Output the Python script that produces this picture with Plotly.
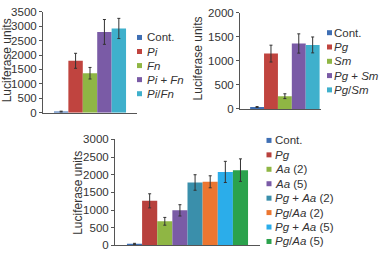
import plotly.graph_objects as go

# ---- data ----
names1 = ["Cont.", "<i>Pi</i>", "<i>Fn</i>", "<i>Pi</i> + <i>Fn</i>", "<i>Pi</i>/<i>Fn</i>"]
vals1 = [40, 1800, 1370, 2800, 2920]
err1 = [15, 260, 200, 430, 350]
colors1 = ["#3f6fb4", "#c0443f", "#8fb644", "#7a5ba6", "#3fb0cc"]

names2 = ["Cont.", "<i>Pg</i>", "<i>Sm</i>", "<i>Pg</i> + <i>Sm</i>", "<i>Pg</i>/<i>Sm</i>"]
vals2 = [40, 1150, 265, 1360, 1330]
err2 = [10, 175, 50, 200, 165]
colors2 = ["#3f6fb4", "#c0443f", "#8fb644", "#7a5ba6", "#3fb0cc"]

names3 = ["Cont.", "<i>Pg</i>", "<i>Aa</i> (2)", "<i>Aa</i> (5)", "<i>Pg</i> + <i>Aa</i> (2)",
          "<i>Pg</i>/<i>Aa</i> (2)", "<i>Pg</i> + <i>Aa</i> (5)", "<i>Pg</i>/<i>Aa</i> (5)"]
vals3 = [40, 1260, 680, 990, 1780, 1800, 2080, 2130]
err3 = [15, 200, 110, 160, 220, 170, 300, 320]
colors3 = ["#3f6fb4", "#b8413d", "#8fb644", "#7a5ba6", "#3a8fab", "#ec7630", "#2badea", "#2ba24c"]

yticks1 = [0, 500, 1000, 1500, 2000, 2500, 3000, 3500]
yticks2 = [0, 500, 1000, 1500, 2000]
yticks3 = [0, 500, 1000, 1500, 2000, 2500, 3000]

FONT = "Liberation Sans, Arial, Helvetica, sans-serif"
TXT = "#333333"
AX = "#555555"
FS = 11.5

W, H = 380, 257

fig = go.Figure()

panels = [
    (names1, vals1, err1, colors1, "x", "y", "x4", "y4"),
    (names2, vals2, err2, colors2, "x2", "y2", "x5", "y5"),
    (names3, vals3, err3, colors3, "x3", "y3", "x6", "y6"),
]

for names, vals, errs, cols, xa, ya, lxa, lya in panels:
    idx = list(range(len(vals)))
    fig.add_trace(go.Bar(
        x=idx, y=vals, width=1, marker=dict(color=cols, line=dict(width=0)),
        error_y=dict(type="data", array=errs, color="#333333", thickness=1, width=1.5),
        xaxis=xa, yaxis=ya, showlegend=False, hoverinfo="skip"))
    # legend swatches
    fig.add_trace(go.Scatter(
        x=[0] * len(names), y=idx, mode="markers",
        marker=dict(symbol="square", size=5, color=cols),
        cliponaxis=False, xaxis=lxa, yaxis=lya, showlegend=False, hoverinfo="skip"))
    # legend labels
    for i, nm in enumerate(names):
        fig.add_annotation(text=nm, x=1, y=i, xref=lxa, yref=lya, xanchor="left",
                           yanchor="middle", showarrow=False, borderpad=0,
                           font=dict(family=FONT, size=FS, color=TXT))


def px_x(a, b):
    return [a / W, b / W]


def px_y(top, bottom):
    return [(H - bottom) / H, (H - top) / H]


def baraxis(dom, rng):
    return dict(domain=dom, range=rng, showgrid=False, zeroline=False, showticklabels=False,
                ticks="", showline=True, linecolor=AX, linewidth=1, fixedrange=True)


def valaxis(dom, rng, tv, anchor):
    return dict(domain=dom, range=rng, tickvals=tv, ticktext=[str(v) for v in tv],
                showgrid=False, zeroline=False, showline=True, linecolor=AX, linewidth=1,
                ticks="outside", ticklen=3, tickcolor=AX,
                tickfont=dict(family=FONT, size=FS, color=TXT), anchor=anchor, fixedrange=True)


def hidden(dom, rng, anchor):
    return dict(domain=dom, range=rng, visible=False, anchor=anchor, fixedrange=True)


fig.update_layout(
    width=W, height=H, margin=dict(l=0, r=0, t=0, b=0),
    paper_bgcolor="white", plot_bgcolor="white",
    font=dict(family=FONT, size=FS, color=TXT),
    showlegend=False,
    xaxis=dict(baraxis(px_x(43, 137), [-1.26, 5.26]), anchor="y"),
    yaxis=valaxis(px_y(6, 112), [0, 3500], yticks1, "x"),
    xaxis2=dict(baraxis(px_x(240, 321), [-1.23, 4.6]), anchor="y2"),
    yaxis2=valaxis(px_y(7, 108), [0, 2000], yticks2, "x2"),
    xaxis3=dict(baraxis(px_x(115, 260), [-1.29, 8.29]), anchor="y3"),
    yaxis3=valaxis(px_y(140, 251), [0, 3000], yticks3, "x3"),
    xaxis4=hidden(px_x(139.5, 145.5), [0, 1], "y4"),
    yaxis4=hidden(px_y(33, 92), [4, 0], "x4"),
    xaxis5=hidden(px_x(329.5, 333), [0, 1], "y5"),
    yaxis5=hidden(px_y(28, 88), [4, 0], "x5"),
    xaxis6=hidden(px_x(269, 274), [0, 1], "y6"),
    yaxis6=hidden(px_y(141, 247), [7, 0], "x6"),
)

title_font = dict(family=FONT, size=12, color=TXT)
for xc, yc in [(7, 57), (198, 55), (78, 196)]:
    fig.add_annotation(text="Luciferase units", textangle=-90, showarrow=False,
                       xref="paper", yref="paper", x=xc / W, y=(H - yc) / H,
                       xanchor="center", yanchor="middle", font=title_font)

fig.write_html("out.html",
               config={"displayModeBar": False, "staticPlot": True},
               post_script="document.body.style.margin='0';document.body.style.overflow='hidden';")
